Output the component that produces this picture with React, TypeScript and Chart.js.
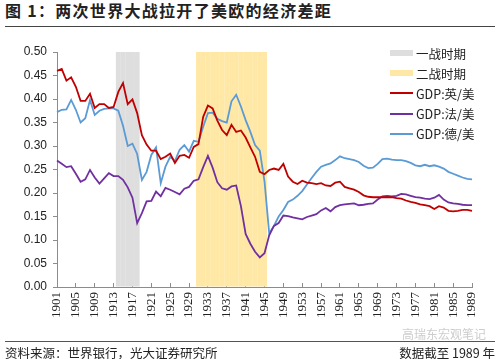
import React, { useEffect, useRef } from "react";
import { Chart, registerables } from "chart.js";

Chart.register(...registerables);

const years: string[] = [
  "1901","1902","1903","1904","1905","1906","1907","1908","1909","1910",
  "1911","1912","1913","1914","1915","1916","1917","1918","1919","1920",
  "1921","1922","1923","1924","1925","1926","1927","1928","1929","1930",
  "1931","1932","1933","1934","1935","1936","1937","1938","1939","1940",
  "1941","1942","1943","1944","1945","1946","1947","1948","1949","1950",
  "1951","1952","1953","1954","1955","1956","1957","1958","1959","1960",
  "1961","1962","1963","1964","1965","1966","1967","1968","1969","1970",
  "1971","1972","1973","1974","1975","1976","1977","1978","1979","1980",
  "1981","1982","1983","1984","1985","1986","1987","1988","1989",
];

const xTickLabels: string[] = [
  "1901","1905","1909","1913","1917","1921","1925","1929","1933","1937","1941",
  "1945","1949","1953","1957","1961","1965","1969","1973","1977","1981","1985","1989",
];

// GDP: UK / US
const ukUs: number[] = [
  0.460, 0.464, 0.439, 0.446, 0.426, 0.396, 0.396, 0.411, 0.381, 0.389,
  0.389, 0.381, 0.383, 0.415, 0.434, 0.389, 0.399, 0.370, 0.323, 0.303,
  0.290, 0.290, 0.272, 0.277, 0.284, 0.264, 0.279, 0.281, 0.275, 0.298,
  0.304, 0.362, 0.386, 0.380, 0.354, 0.334, 0.323, 0.345, 0.330, 0.333,
  0.318, 0.297, 0.277, 0.245, 0.240, 0.249, 0.252, 0.249, 0.262, 0.235,
  0.224, 0.219, 0.226, 0.222, 0.221, 0.219, 0.221, 0.216, 0.215, 0.222,
  0.224, 0.213, 0.210, 0.207, 0.202, 0.195, 0.192, 0.191, 0.191, 0.191,
  0.191, 0.191, 0.189, 0.188, 0.184, 0.181, 0.179, 0.176, 0.174, 0.172,
  0.166, 0.172, 0.169, 0.162, 0.161, 0.162, 0.164, 0.164, 0.162,
];

// GDP: France / US
const frUs: number[] = [
  0.269, 0.262, 0.255, 0.257, 0.241, 0.224, 0.229, 0.249, 0.233, 0.220,
  0.231, 0.242, 0.236, 0.236, 0.228, 0.212, 0.190, 0.136, 0.157, 0.182,
  0.183, 0.203, 0.193, 0.211, 0.207, 0.202, 0.197, 0.209, 0.213, 0.226,
  0.229, 0.255, 0.279, 0.254, 0.223, 0.210, 0.207, 0.214, 0.216, 0.172,
  0.113, 0.092, 0.075, 0.063, 0.072, 0.110, 0.130, 0.136, 0.152, 0.151,
  0.148, 0.146, 0.144, 0.149, 0.152, 0.155, 0.163, 0.168, 0.161, 0.170,
  0.174, 0.176, 0.177, 0.178, 0.174, 0.175, 0.177, 0.178, 0.186, 0.193,
  0.194, 0.193, 0.194, 0.198, 0.197, 0.194, 0.191, 0.190, 0.188, 0.187,
  0.190, 0.196, 0.186, 0.180, 0.178, 0.177, 0.175, 0.174, 0.174,
];

// GDP: Germany / US
const deUs: number[] = [
  0.372, 0.377, 0.378, 0.398, 0.377, 0.350, 0.359, 0.398, 0.366, 0.375,
  0.379, 0.380, 0.380, 0.375, 0.343, 0.300, 0.305, 0.283, 0.228, 0.245,
  0.281, 0.297, 0.221, 0.256, 0.277, 0.268, 0.292, 0.302, 0.288, 0.311,
  0.309, 0.341, 0.370, 0.371, 0.358, 0.353, 0.350, 0.395, 0.409, 0.384,
  0.355, 0.330, 0.302, 0.290, 0.225, 0.114, 0.130, 0.150, 0.164, 0.181,
  0.186, 0.194, 0.204, 0.218, 0.232, 0.245, 0.256, 0.260, 0.263, 0.270,
  0.278, 0.274, 0.272, 0.270, 0.266, 0.258, 0.253, 0.254, 0.262, 0.272,
  0.273, 0.271, 0.270, 0.270, 0.268, 0.264, 0.259, 0.257, 0.260, 0.257,
  0.259, 0.256, 0.252, 0.245, 0.241, 0.237, 0.233, 0.230, 0.229,
];

// war periods (first year, last year)
const ww1: number[] = [1914, 1918];
const ww2: number[] = [1931, 1945];
const bandTop = 0.5;

const yMin = 0;
const yMax = 0.5;
const yStep = 0.05;

const COLORS = {
  ww1: "#dedede",
  ww2: "#ffe8a6",
  uk: "#c00000",
  fr: "#7030a0",
  de: "#5b9bd5",
};

const legendItems = [
  { label: "一战时期", color: COLORS.ww1, kind: "box" },
  { label: "二战时期", color: COLORS.ww2, kind: "box" },
  { label: "GDP:英/美", color: COLORS.uk, kind: "line" },
  { label: "GDP:法/美", color: COLORS.fr, kind: "line" },
  { label: "GDP:德/美", color: COLORS.de, kind: "line" },
];

const band = (range: number[]) =>
  years.map((y) => (Number(y) >= range[0] && Number(y) <= range[1] ? bandTop : null));

const CJK = '"Noto Sans CJK SC", "Noto Sans", sans-serif';

export default function App() {
  const canvasRef = useRef<HTMLCanvasElement | null>(null);

  useEffect(() => {
    const canvas = canvasRef.current;
    if (!canvas) return;
    const lineDs = (label: string, data: number[], color: string) => ({
      type: "line" as const,
      label,
      data,
      borderColor: color,
      backgroundColor: color,
      borderWidth: 1.8,
      pointRadius: 0,
      tension: 0,
      order: 1,
    });
    const barDs = (label: string, data: (number | null)[], color: string) => ({
      type: "bar" as const,
      label,
      data,
      backgroundColor: color,
      borderWidth: 0,
      grouped: false,
      barPercentage: 1.04,
      categoryPercentage: 1,
      order: 5,
    });
    const chart = new Chart(canvas, {
      type: "line",
      data: {
        labels: years,
        datasets: [
          barDs("一战时期", band(ww1), COLORS.ww1),
          barDs("二战时期", band(ww2), COLORS.ww2),
          lineDs("GDP:英/美", ukUs, COLORS.uk),
          lineDs("GDP:法/美", frUs, COLORS.fr),
          lineDs("GDP:德/美", deUs, COLORS.de),
        ] as any,
      },
      options: {
        animation: false,
        responsive: false,
        devicePixelRatio: 1,
        layout: { padding: { top: 52, right: 28, bottom: 0, left: 0 } },
        plugins: { legend: { display: false }, tooltip: { enabled: false }, title: { display: false } },
        scales: {
          x: {
            type: "category",
            offset: false,
            grid: {
              offset: false,
              drawOnChartArea: false,
              drawTicks: true,
              tickLength: -4,
              color: "#8c8c8c",
              lineWidth: 1,
            },
            border: { color: "#8c8c8c", width: 1 },
            ticks: {
              autoSkip: false,
              minRotation: 90,
              maxRotation: 90,
              padding: 9,
              color: "#222",
              font: { family: '"Liberation Serif", "DejaVu Serif", serif', size: 13 },
              callback: (_v: any, i: number) =>
                xTickLabels.includes(years[i]) ? years[i] : null,
            },
            afterFit: (scale: any) => {
              scale.height = 72;
            },
          },
          y: {
            type: "linear",
            min: yMin,
            max: yMax,
            grid: { drawOnChartArea: false, tickLength: 4, color: "#8c8c8c" },
            border: { color: "#8c8c8c", width: 1 },
            ticks: {
              stepSize: yStep,
              padding: 6,
              color: "#222",
              font: { family: '"Liberation Sans", Arial, sans-serif', size: 12 },
              callback: (v: any) => Number(v).toFixed(2),
            },
            afterFit: (scale: any) => {
              scale.width = 57;
            },
          },
        },
      },
    });
    return () => chart.destroy();
  }, []);

  return (
    <div
      style={{
        position: "absolute",
        left: 0,
        top: 0,
        width: 500,
        height: 359,
        background: "#fff",
        overflow: "hidden",
        fontFamily: CJK,
      }}
    >
      <div
        style={{
          position: "absolute",
          left: 5,
          top: 0,
          fontSize: 16,
          fontWeight: 700,
          letterSpacing: 1.3,
          color: "#222",
          whiteSpace: "nowrap",
          lineHeight: "20px",
        }}
      >
        图 1：两次世界大战拉开了美欧的经济差距
      </div>
      <div style={{ position: "absolute", left: 5, top: 26, width: 490, borderTop: "1px solid #444" }} />
      <canvas
        ref={canvasRef}
        width={500}
        height={359}
        style={{ position: "absolute", left: 0, top: 0, width: 500, height: 359 }}
      />
      <div style={{ position: "absolute", left: 390, top: 43 }}>
        {legendItems.map((it) => (
          <div key={it.label} style={{ display: "flex", alignItems: "center", height: 20.2 }}>
            <div
              style={{
                width: 23,
                height: it.kind === "box" ? 6 : 2,
                background: it.color,
                marginRight: 3,
              }}
            />
            <span style={{ fontSize: 12.5, color: "#222", whiteSpace: "nowrap" }}>{it.label}</span>
          </div>
        ))}
      </div>
      <div
        style={{
          position: "absolute",
          right: 14,
          top: 325,
          fontSize: 12,
          color: "#cdcdcd",
          whiteSpace: "nowrap",
        }}
      >
        高瑞东宏观笔记
      </div>
      <div style={{ position: "absolute", left: 5, top: 341, width: 490, borderTop: "1px solid #555" }} />
      <div style={{ position: "absolute", left: 5, top: 343, fontSize: 12.5, color: "#222", whiteSpace: "nowrap" }}>
        资料来源：世界银行，光大证券研究所
      </div>
      <div style={{ position: "absolute", right: 5, top: 343, fontSize: 12.5, color: "#222", whiteSpace: "nowrap" }}>
        数据截至 1989 年
      </div>
    </div>
  );
}
